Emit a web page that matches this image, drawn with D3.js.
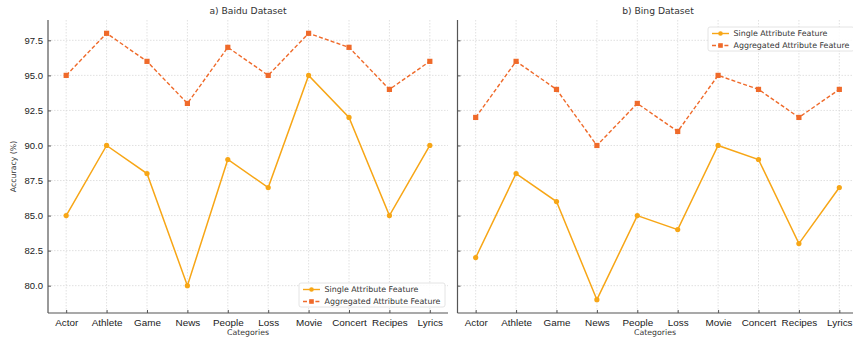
<!DOCTYPE html>
<html><head><meta charset="utf-8">
<script src="https://cdn.jsdelivr.net/npm/d3@7"></script>
<style>
body{margin:0;background:#fff;}
svg{display:block;font-family:"DejaVu Sans",sans-serif;}
</style></head>
<body><svg id="c" width="853" height="339"></svg>
<script>
const categories = ["Actor","Athlete","Game","News","People","Loss","Movie","Concert","Recipes","Lyrics"];
const baiduSingle = [85,90,88,80,89,87,95,92,85,90];
const baiduAggregated = [95,98,96,93,97,95,98,97,94,96];
const bingSingle = [82,88,86,79,85,84,90,89,83,87];
const bingAggregated = [92,96,94,90,93,91,95,94,92,94];
const yTicks = [80.0,82.5,85.0,87.5,90.0,92.5,95.0,97.5];
const seriesNames = ["Single Attribute Feature","Aggregated Attribute Feature"];
const titles = ["a) Baidu Dataset","b) Bing Dataset"];

(function(){
const colSingle = "#f7a616", colAgg = "#ef6a2a";
const svg = d3.select("#c");
const yTop = 20, yBot = 313;
const y = d3.scaleLinear().domain([78.05, 98.95]).range([yBot, yTop]);

const panels = [
  {x0:48, x1:448, single:baiduSingle, agg:baiduAggregated, title:titles[0], labels:true, legend:{x:299,y:283}},
  {x0:457.5, x1:857.5, single:bingSingle, agg:bingAggregated, title:titles[1], labels:false, legend:{x:708,y:27}}
];

panels.forEach(p=>{
  const x = d3.scaleLinear().domain([-0.45, 9.45]).range([p.x0, p.x1]);
  const g = svg.append("g");
  g.selectAll(".gx").data(categories).enter().append("line")
    .attr("x1",(d,i)=>x(i)).attr("x2",(d,i)=>x(i)).attr("y1",yTop).attr("y2",yBot)
    .attr("stroke","#d4d4d4").attr("stroke-width",0.7).attr("stroke-dasharray","1.5,1.5");
  g.selectAll(".gy").data(yTicks).enter().append("line")
    .attr("x1",p.x0).attr("x2",p.x1).attr("y1",d=>y(d)).attr("y2",d=>y(d))
    .attr("stroke","#d4d4d4").attr("stroke-width",0.7).attr("stroke-dasharray","1.5,1.5");
  const ax = d3.axisBottom(x).tickValues(d3.range(categories.length)).tickFormat(i=>categories[i]).tickSizeInner(-3).tickSizeOuter(0).tickPadding(6);
  const gx = g.append("g").attr("transform",`translate(0,${yBot})`).call(ax);
  const ay = d3.axisLeft(y).tickValues(yTicks).tickFormat(p.labels? d3.format(".1f") : ()=>"").tickSizeInner(-3).tickSizeOuter(0).tickPadding(5);
  const gy = g.append("g").attr("transform",`translate(${p.x0},0)`).call(ay);
  [gx,gy].forEach(a=>{
    a.select(".domain").attr("stroke","#555").attr("stroke-width",1.2);
    a.selectAll(".tick line").attr("stroke","#555");
    a.selectAll("text").attr("fill","#1a1a1a").style("font-size","9.5px");
  });
  gx.selectAll("text").style("font-size","9.9px");
  gx.select(".domain").attr("d",`M${p.x0},0H${p.x1}`);
  gy.select(".domain").attr("d",`M0,${yTop}V${yBot}`);
  g.append("text").attr("x",p.labels?248:655).attr("y",335).attr("text-anchor","middle")
    .attr("fill","#333").style("font-size","7.8px").text("Categories");
  if(p.labels){
    g.append("text").attr("transform",`translate(16,${(yTop+yBot)/2}) rotate(-90)`).attr("text-anchor","middle")
      .attr("fill","#333").style("font-size","7.8px").text("Accuracy (%)");
  }
  g.append("text").attr("x",p.labels?248:658).attr("y",14).attr("text-anchor","middle")
    .attr("fill","#333").style("font-size","9.2px").text(p.title);
  const line = d3.line().x((d,i)=>x(i)).y(d=>y(d));
  g.append("path").datum(p.single).attr("d",line).attr("fill","none").attr("stroke",colSingle).attr("stroke-width",1.5);
  g.append("path").datum(p.agg).attr("d",line).attr("fill","none").attr("stroke",colAgg).attr("stroke-width",1.4).attr("stroke-dasharray","4,2.2");
  g.selectAll(".ms").data(p.single).enter().append("circle").attr("cx",(d,i)=>x(i)).attr("cy",d=>y(d)).attr("r",2.6).attr("fill",colSingle);
  g.selectAll(".ma").data(p.agg).enter().append("rect").attr("x",(d,i)=>x(i)-2.6).attr("y",d=>y(d)-2.6).attr("width",5.2).attr("height",5.2).attr("fill",colAgg);
  const L = g.append("g").attr("transform",`translate(${p.legend.x},${p.legend.y})`);
  L.append("rect").attr("width",146).attr("height",24).attr("rx",2).attr("fill","#fff").attr("fill-opacity",0.85).attr("stroke","#ddd").attr("stroke-width",0.8);
  [[colSingle,"c",null],[colAgg,"s","4,2.2"]].forEach((s,k)=>{
    const ly = 6.5 + k*12;
    L.append("line").attr("x1",4).attr("x2",21).attr("y1",ly).attr("y2",ly).attr("stroke",s[0]).attr("stroke-width",1.4).attr("stroke-dasharray",s[2]);
    if(s[1]==="c") L.append("circle").attr("cx",12.5).attr("cy",ly).attr("r",2.3).attr("fill",s[0]);
    else L.append("rect").attr("x",10.2).attr("y",ly-2.3).attr("width",4.6).attr("height",4.6).attr("fill",s[0]);
    L.append("text").attr("x",25.5).attr("y",ly).attr("dy","0.35em").attr("fill","#333").style("font-size","7.9px").text(seriesNames[k]);
  });
});
})();
</script></body></html>
